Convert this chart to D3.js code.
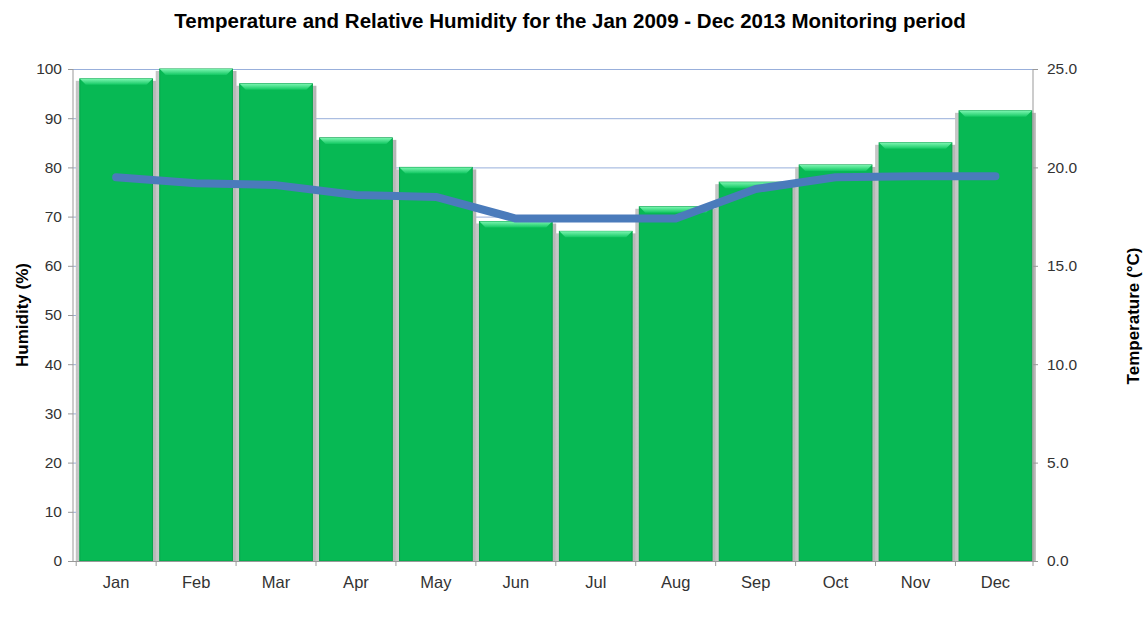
<!DOCTYPE html>
<html>
<head>
<meta charset="utf-8">
<script src="https://cdn.jsdelivr.net/npm/d3@7"></script>
<style>
  body { margin: 0; background: #fff; }
  svg { font-family: "Liberation Sans", Arial, sans-serif; }
</style>
</head>
<body>
<script>
// monthly averages
const months = ['Jan', 'Feb', 'Mar', 'Apr', 'May', 'Jun', 'Jul', 'Aug', 'Sep', 'Oct', 'Nov', 'Dec'];
const humidity = [98, 100, 97, 86, 80, 69, 67, 72, 77, 80.5, 85, 91.5];
const temperature = [19.5, 19.2, 19.1, 18.6, 18.5, 17.4, 17.4, 17.4, 18.9, 19.5, 19.55, 19.55];
const humidityTicks = [0, 10, 20, 30, 40, 50, 60, 70, 80, 90, 100];
const tempTicks = [0, 5, 10, 15, 20, 25];

const width = 1145;
const height = 622;
const margin = { top: 69, right: 112, bottom: 61, left: 73 };

const svg = d3.select('body')
  .append('svg')
  .attr('width', width)
  .attr('height', height);

const defs = svg.append('defs');

// bevel gradient for the bar tops
const topGrad = defs.append('linearGradient')
  .attr('id', 'topGrad')
  .attr('x1', 0).attr('y1', 0).attr('x2', 0).attr('y2', 1);
topGrad.append('stop').attr('offset', '0%').attr('stop-color', '#7af5b0');
topGrad.append('stop').attr('offset', '100%').attr('stop-color', '#12c862');

// soft gray shadow beside the bars
const shadowGrad = defs.append('linearGradient')
  .attr('id', 'shadowGrad')
  .attr('x1', 0).attr('y1', 0).attr('x2', 1).attr('y2', 0);
shadowGrad.append('stop').attr('offset', '0%').attr('stop-color', '#c4c4c4');
shadowGrad.append('stop').attr('offset', '50%').attr('stop-color', '#f6f6f6');
shadowGrad.append('stop').attr('offset', '100%').attr('stop-color', '#b4b4b4');

const x = d3.scaleBand()
  .domain(months)
  .range([margin.left, width - margin.right])
  .paddingInner(0.09)
  .paddingOuter(0.05)
  .align(0.85);

const yHum = d3.scaleLinear()
  .domain([0, 100])
  .range([height - margin.bottom, margin.top]);

const yTemp = d3.scaleLinear()
  .domain([0, 25])
  .range([height - margin.bottom, margin.top]);

const left = margin.left;
const right = width - margin.right;
const bottom = height - margin.bottom;

// gridlines
svg.append('g')
  .selectAll('line')
  .data(humidityTicks.filter(d => d > 0))
  .join('line')
  .attr('x1', left)
  .attr('x2', right)
  .attr('y1', d => yHum(d) + 0.5)
  .attr('y2', d => yHum(d) + 0.5)
  .attr('stroke', '#98afdb')
  .attr('stroke-width', 1);

// bars
const bars = svg.append('g')
  .selectAll('g')
  .data(months.map((m, i) => ({ month: m, value: humidity[i] })))
  .join('g');

bars.append('rect')
  .attr('x', d => x(d.month) - 4)
  .attr('y', d => yHum(d.value) + 2)
  .attr('width', x.bandwidth() + 8)
  .attr('height', d => bottom - yHum(d.value) - 2)
  .attr('fill', 'url(#shadowGrad)');

bars.append('rect')
  .attr('x', d => x(d.month))
  .attr('y', d => yHum(d.value))
  .attr('width', x.bandwidth())
  .attr('height', d => bottom - yHum(d.value))
  .attr('fill', '#07b954')
  .attr('stroke', '#06a24a')
  .attr('stroke-width', 1);

bars.append('path')
  .attr('d', d => {
    const x0 = x(d.month), x1 = x0 + x.bandwidth(), y0 = yHum(d.value);
    return `M${x0},${y0}L${x1},${y0}L${x1 - 6},${y0 + 6}L${x0 + 6},${y0 + 6}Z`;
  })
  .attr('fill', 'url(#topGrad)');

// temperature line
const line = d3.line()
  .x((d, i) => x(months[i]) + x.bandwidth() / 2)
  .y(d => yTemp(d));

svg.append('path')
  .datum(temperature)
  .attr('d', line)
  .attr('fill', 'none')
  .attr('stroke', '#4a7bbb')
  .attr('stroke-width', 8)
  .attr('stroke-linejoin', 'round')
  .attr('stroke-linecap', 'round');

// axes
const axisColor = '#999';

const leftAxis = svg.append('g')
  .attr('transform', `translate(${left},0)`)
  .call(d3.axisLeft(yHum).tickValues(humidityTicks).tickSize(5).tickPadding(6));

const rightAxis = svg.append('g')
  .attr('transform', `translate(${right},0)`)
  .call(d3.axisRight(yTemp).tickValues(tempTicks).tickSize(5).tickPadding(9).tickFormat(d3.format('.1f')));

const xAxis = svg.append('g')
  .attr('transform', `translate(0,${bottom})`)
  .call(d3.axisBottom(x).tickSize(0).tickPadding(15));

// category boundary ticks on x axis
svg.append('g')
  .selectAll('line')
  .data(months.map((m, i) => i).concat([months.length]))
  .join('line')
  .attr('x1', i => i < months.length ? x(months[i]) - (x.step() - x.bandwidth()) / 2 : right)
  .attr('x2', i => i < months.length ? x(months[i]) - (x.step() - x.bandwidth()) / 2 : right)
  .attr('y1', bottom)
  .attr('y2', bottom + 5)
  .attr('stroke', axisColor);

[leftAxis, rightAxis, xAxis].forEach(a => {
  a.select('.domain').remove();
  a.selectAll('.tick line').attr('stroke', axisColor);
  a.selectAll('.tick text')
    .attr('fill', '#333')
    .style('font-size', a === xAxis ? '16.5px' : '15.5px')
    .style('font-family', '"Liberation Sans", Arial, sans-serif');
});

// axis lines
svg.append('line')
  .attr('x1', left).attr('x2', left)
  .attr('y1', margin.top).attr('y2', bottom)
  .attr('stroke', axisColor);
svg.append('line')
  .attr('x1', right).attr('x2', right)
  .attr('y1', margin.top).attr('y2', bottom)
  .attr('stroke', axisColor);
svg.append('line')
  .attr('x1', left).attr('x2', right)
  .attr('y1', bottom + 0.5).attr('y2', bottom + 0.5)
  .attr('stroke', axisColor);

// title
svg.append('text')
  .attr('x', 570)
  .attr('y', 28)
  .attr('text-anchor', 'middle')
  .style('font-size', '20.5px')
  .style('font-weight', 'bold')
  .attr('fill', '#000')
  .text('Temperature and Relative Humidity for the Jan 2009 - Dec 2013 Monitoring period');

// axis titles
svg.append('text')
  .attr('transform', `translate(28,315) rotate(-90)`)
  .attr('text-anchor', 'middle')
  .style('font-size', '17px')
  .style('font-weight', 'bold')
  .text('Humidity (%)');

svg.append('text')
  .attr('transform', `translate(1139,316) rotate(-90)`)
  .attr('text-anchor', 'middle')
  .style('font-size', '17px')
  .style('font-weight', 'bold')
  .text('Temperature (°C)');
</script>
</body>
</html>
